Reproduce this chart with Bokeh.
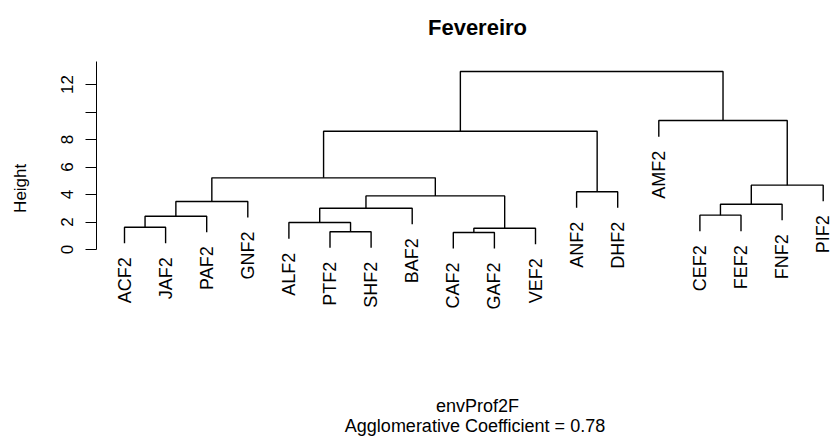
import math

from bokeh.core.properties import value
from bokeh.embed import file_html
from bokeh.models import ColumnDataSource, FixedTicker, Label, LinearAxis, Range1d
from bokeh.plotting import figure
from bokeh.resources import INLINE

# Leaves in dendrogram order
leaf_labels = ["ACF2", "JAF2", "PAF2", "GNF2", "ALF2", "PTF2", "SHF2", "BAF2",
               "CAF2", "GAF2", "VEF2", "ANF2", "DHF2", "AMF2", "CEF2", "FEF2",
               "FNF2", "PIF2"]

# Merge table (R hclust style): negative = leaf position, positive = earlier merge
merge_left = [-9, -6, 1, -1, -5, 4, -15, 5, 7, 6, 8, -12, 9, 10, 14, -14, 15]
merge_right = [-10, -7, -11, -2, 2, -3, -16, -8, -17, -4, 3, -13, -18, 11, 12, 13, 16]
merge_height = [1.24, 1.29, 1.55, 1.62, 1.96, 2.42, 2.50, 3.00, 3.29, 3.49,
                3.90, 4.20, 4.68, 5.21, 8.60, 9.38, 12.95]

y_ticks = [0, 2, 4, 6, 8, 10, 12]
title_text = "Fevereiro"
xlab_text = "envProf2F"
sub_text = "Agglomerative Coefficient =  0.78"
ylab_text = "Height"

FONT = "Liberation Sans"

# Hanging leaves: 10% of the height span
hang = 0.1 * (max(merge_height) - min(merge_height))

leaf_x = list(range(1, len(leaf_labels) + 1))
leaf_end = [0.0] * len(leaf_labels)
node_x = []

xs, ys = [], []
for a, b, h in zip(merge_left, merge_right, merge_height):
    ends = []
    for c in (a, b):
        if c < 0:
            i = -c - 1
            leaf_end[i] = h - hang
            ends.append((leaf_x[i], h - hang))
        else:
            ends.append((node_x[c - 1], merge_height[c - 1]))
    (xa, ya), (xb, yb) = ends
    node_x.append((xa + xb) / 2.0)
    xs.append([xa, xa, xb, xb])
    ys.append([ya, h, h, yb])

# Pixel geometry: frame spans the full height, y axis panel on the left
W, H = 834, 437
frame_left = 96
first_leaf_px = 124
px_per_x = 41.1
zero_px = 249
px_per_y = 13.75
plot_top_px = 61


def px_to_x(px):
    return 1 + (px - first_leaf_px) / px_per_x


def px_to_y(py):
    return (zero_px - py) / px_per_y


p = figure(width=W, height=H,
           x_range=Range1d(px_to_x(frame_left), px_to_x(W)),
           y_range=Range1d(px_to_y(H), px_to_y(0)),
           output_backend="svg", toolbar_location=None, x_axis_type=None,
           min_border_left=frame_left, min_border_right=0, min_border_top=0,
           min_border_bottom=0)
p.title.visible = False
p.grid.visible = False
p.outline_line_color = None
p.background_fill_color = "white"
p.border_fill_color = "white"

ax = p.yaxis[0]
ax.bounds = (0, px_to_y(plot_top_px))
ax.ticker = FixedTicker(ticks=y_ticks)
ax.major_label_overrides = {10: ""}
ax.major_label_orientation = "parallel"
ax.major_label_text_font = FONT
ax.major_label_text_font_size = "17px"
ax.major_label_text_color = "black"
ax.major_label_standoff = 13
ax.axis_line_color = "black"
ax.axis_line_width = 1
ax.major_tick_line_color = "black"
ax.major_tick_out = 11
ax.major_tick_in = 0
ax.minor_tick_out = 0
ax.minor_tick_in = 0

# Outer left axis carrying the y title
ylab_pos = 4.45
ylab_axis = LinearAxis(ticker=FixedTicker(ticks=[ylab_pos]),
                       major_label_overrides={ylab_pos: ylab_text},
                       major_label_orientation="parallel",
                       major_label_text_font=FONT, major_label_text_font_size="17px",
                       major_label_text_color="black", major_label_standoff=28,
                       axis_line_color=None, major_tick_line_color=None,
                       major_tick_out=0, major_tick_in=0,
                       minor_tick_out=0, minor_tick_in=0)
p.add_layout(ylab_axis, "left")

p.multi_line(xs=xs, ys=ys, line_color="black", line_width=1.4)

src = ColumnDataSource(dict(x=leaf_x, y=leaf_end, text=leaf_labels))
p.text(x="x", y="y", text="text", source=src, angle=math.pi / 2,
       text_align="right", text_baseline="middle", y_offset=14,
       text_font=value(FONT), text_font_size="18px", text_color="black")

center_px = 477
p.add_layout(Label(x=px_to_x(center_px), y=px_to_y(26.5), text=title_text,
                   text_font=FONT, text_font_size="22px", text_font_style="bold",
                   text_align="center", text_baseline="alphabetic", text_color="black"))
p.add_layout(Label(x=px_to_x(center_px), y=px_to_y(405), text=xlab_text,
                   text_font=FONT, text_font_size="18px",
                   text_align="center", text_baseline="alphabetic", text_color="black"))
p.add_layout(Label(x=px_to_x(center_px), y=px_to_y(425), text=sub_text,
                   text_font=FONT, text_font_size="18px",
                   text_align="center", text_baseline="alphabetic", text_color="black"))

open("out.html", "w").write(file_html(p, INLINE))
